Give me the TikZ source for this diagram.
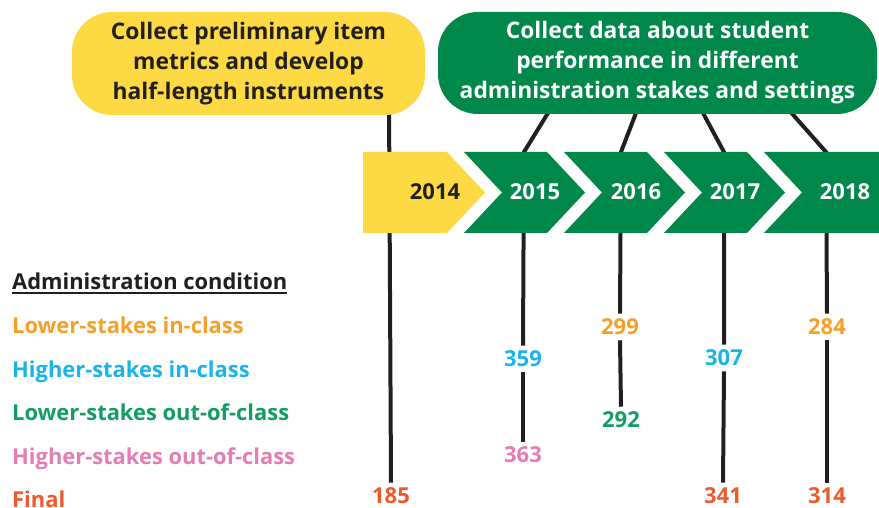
\documentclass[tikz,border=0pt]{standalone}
\usepackage{fontspec}
\setmainfont{Open Sans}
\usetikzlibrary{positioning}

\definecolor{phaseyellow}{HTML}{FDDA44}
\definecolor{phasegreen}{HTML}{00884A}
\definecolor{ink}{HTML}{231F20}
\definecolor{lowin}{HTML}{F6A02B}
\definecolor{highin}{HTML}{1AB3EA}
\definecolor{lowout}{HTML}{119E63}
\definecolor{highout}{HTML}{E37DB3}
\definecolor{final}{HTML}{EE5A2C}

\begin{document}
\begin{tikzpicture}[x=1pt, y=-1pt,
	phase/.style={rounded corners=40pt, inner sep=0pt, align=center, font=\fontsize{22.8}{30}\selectfont\bfseries},
	yearlabel/.style={font=\fontsize{22}{26}\selectfont\bfseries},
	count/.style={inner sep=5pt, font=\fontsize{22}{25}\selectfont\bfseries},
	cond/.style={anchor=base west, inner sep=0pt, font=\fontsize{21.9}{24}\selectfont\bfseries},
	link/.style={draw=ink, line width=4pt}]
	\useasboundingbox (0,0) rectangle (879,508);

	% counts under each year
	\node[count, text=final] (n185) at (391,496) {185};
	\node[count, text=highin] (n359) at (523,359) {359};
	\node[count, text=highout] (n363) at (523,455) {363};
	\node[count, text=lowin] (n299) at (620,327) {299};
	\node[count, text=lowout] (n292) at (621,420) {292};
	\node[count, text=highin] (n307) at (724,358) {307};
	\node[count, text=final] (n341) at (723,496) {341};
	\node[count, text=lowin] (n284) at (827,327) {284};
	\node[count, text=final] (n314) at (827,496) {314};

	% start and bend points of the lines
	\coordinate (p14) at (389,100);
	\coordinate (g15) at (556,100); \coordinate (b15) at (524,152);
	\coordinate (g16) at (641,100); \coordinate (b16) at (621,152);
	\coordinate (g17) at (696,100); \coordinate (b17) at (724,152);
	\coordinate (g18) at (780,100); \coordinate (b18) at (826,152);

	% lines sit under boxes and arrows
	\draw[link] (p14) -- (n185.north);
	\draw[link] (g15) -- (b15) -- (n359.north);
	\draw[link] (n359.south) -- (n363.north);
	\draw[link] (g16) -- (b16) -- (n299.north);
	\draw[link] (n299.south) -- (n292.north);
	\draw[link] (g17) -- (b17) -- (n307.north);
	\draw[link] (n307.south) -- (n341.north);
	\draw[link] (g18) -- (b18) -- (n284.north);
	\draw[link] (n284.south) -- (n314.north);

	% the two phases
	\node[phase, fill=phaseyellow, text=ink, minimum width=353pt, minimum height=103pt] (prelim) at (248.5,63.5)
		{Collect preliminary item\\metrics and develop\\half-length instruments};
	\node[phase, fill=phasegreen, text=white, minimum width=439pt, minimum height=102pt] (stakes) at (657.5,63)
		{Collect data about student\\performance in different\\administration stakes and settings};

	% year arrows
	\fill[phaseyellow] (363,152) -- (447,152) -- (485,192.5) -- (447,233) -- (363,233) -- cycle;
	\foreach \l/\r in {464/547, 564/647, 664/747} {
		\fill[phasegreen] (\l,152) -- (\r,152) -- (\r+38,192.5) -- (\r,233) -- (\l,233) -- (\l+38,192.5) -- cycle;
	}
	\fill[phasegreen] (764,152) -- (879,152) -- (879,233) -- (764,233) -- (802,192.5) -- cycle;
	\node[yearlabel, text=ink] (y2014) at (435,192) {2014};
	\foreach \y/\x in {2015/535, 2016/636, 2017/735, 2018/845}
		\node[yearlabel, text=white] (y\y) at (\x,192) {\y};

	% legend
	\node[cond, text=ink] (head) at (12,289) {Administration condition};
	\draw[ink, line width=1.8pt] ([yshift=-4pt]head.base west) -- ([yshift=-4pt]head.base east);
	\foreach \i/\t/\c/\yy in {1/Lower-stakes in-class/lowin/333, 2/Higher-stakes in-class/highin/377,
		3/Lower-stakes out-of-class/lowout/420, 4/Higher-stakes out-of-class/highout/464, 5/Final/final/507}
		\node[cond, text=\c] (cond\i) at (12,\yy) {\t};
\end{tikzpicture}
\end{document}
